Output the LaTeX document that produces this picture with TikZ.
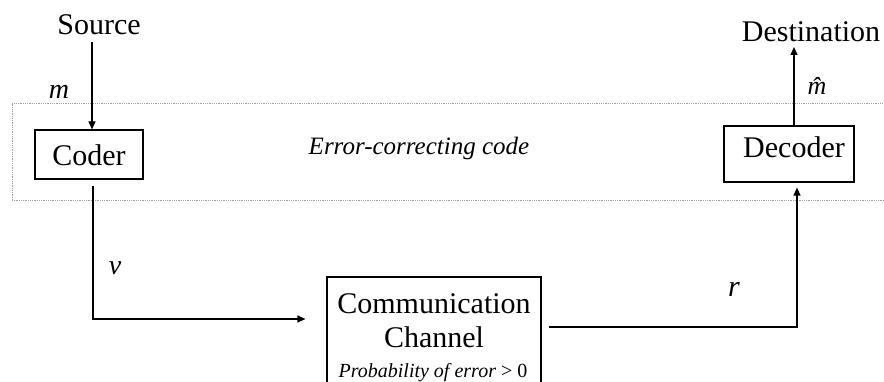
\documentclass[tikz,border=0pt]{standalone}
\usepackage{fontspec}
\setmainfont{Liberation Serif}
\usetikzlibrary{arrows.meta}

\tikzset{
  lbl/.style={inner sep=0pt, anchor=base, font=\fontsize{30}{36}\selectfont},
  ital/.style={inner sep=0pt, anchor=base, font=\fontsize{#1}{#1}\selectfont\itshape},
  blockbox/.style={draw, line width=1.2pt, inner sep=0pt},
  frame/.style={draw=gray!75, line width=0.9pt, dash pattern=on 0.9pt off 0.9pt, inner sep=0pt},
  conn/.style={line width=1.2pt},
  arr/.style={conn, -{Triangle[length=8pt,width=7pt]}},
}

\begin{document}
\begin{tikzpicture}[x=1pt,y=-1pt]
  \useasboundingbox (0,0) rectangle (884,382);

  % dotted frame around the code
  \node[frame, minimum width=880, minimum height=97] (ecc) at (452,151.5) {};
  \node[ital=25] (ecctxt) at (419,155) {Error-correcting code};

  % blocks
  \node[blockbox, minimum width=108, minimum height=49] (coder) at (89,154.5) {};
  \node[lbl] (codertxt) at (89,166) {Coder};
  \node[blockbox, minimum width=130, minimum height=56] (decoder) at (789,154) {};
  \node[lbl] (dectxt) at (794,158) {Decoder};
  \node[blockbox, minimum width=214, minimum height=120] (channel) at (434,337) {};
  \node[lbl] (ch1) at (434,313) {Communication};
  \node[lbl] (ch2) at (434,347) {Channel};
  \node[inner sep=0pt, anchor=base, font=\fontsize{20}{24}\selectfont] (ch3) at (433,377) {\textit{Probability of error} > 0};

  % end points
  \node[lbl] (src) at (99,35) {Source};
  \node[lbl] (dst) at (811,42) {Destination};

  % signal labels
  \node[ital=28] (mlbl) at (59,99) {m};
  \node[ital=26] (mhat) at (817,95) {\^{m}};
  \node[ital=28] (vlbl) at (115,275) {v};
  \node[ital=30] (rlbl) at (734,297) {r};

  % connectors
  \draw[arr] ([xshift=-7pt,yshift=-7pt]src.base) -- ([xshift=3pt]coder.north);
  \draw[arr] ([xshift=4pt,yshift=-6pt]coder.south) |- ([xshift=-21pt,yshift=18pt]channel.west);
  \draw[arr] ([xshift=7pt,yshift=10pt]channel.east) -| ([xshift=8pt,yshift=-5pt]decoder.south);
  \draw[arr] ([xshift=5pt]decoder.north) -- ([xshift=-17pt,yshift=-5pt]dst.base);
\end{tikzpicture}
\end{document}
